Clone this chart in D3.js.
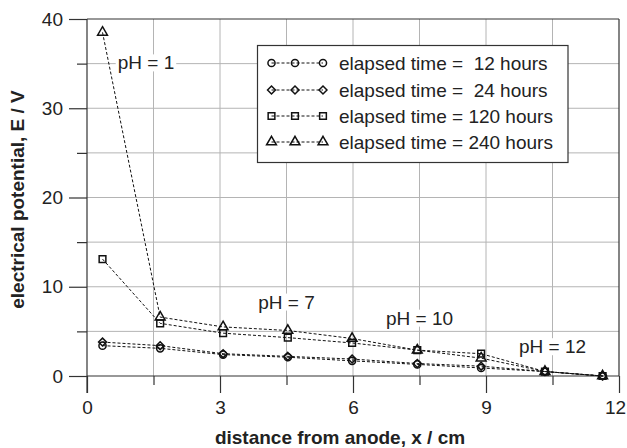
<!DOCTYPE html>
<html><head><meta charset="utf-8">
<script src="https://cdn.jsdelivr.net/npm/d3@7"></script>
<style>body{margin:0;background:#fff}svg{display:block}text{font-family:"Liberation Sans",Arial,sans-serif;fill:#222}</style>
</head><body>
<script>
const distances = [0.35, 1.65, 3.07, 4.53, 5.98, 7.45, 8.89, 10.33, 11.63];
const seriesNames = ["elapsed time =  12 hours","elapsed time =  24 hours","elapsed time = 120 hours","elapsed time = 240 hours"];
const hours12  = [3.4, 3.1, 2.4, 2.1, 1.7, 1.3, 0.9, 0.5, 0];
const hours24  = [3.8, 3.4, 2.5, 2.2, 1.9, 1.4, 1.1, 0.5, 0];
const hours120 = [13.1, 5.9, 4.8, 4.3, 3.7, 2.9, 2.5, 0.5, 0];
const hours240 = [38.5, 6.6, 5.5, 5.1, 4.2, 2.9, 2.0, 0.5, 0];
const xMajorTicks = [0, 3, 6, 9, 12];
const xMinorTicks = [1.5, 4.5, 7.5, 10.5];
const yMajorTicks = [0, 10, 20, 30, 40];
const yMinorTicks = [5, 15, 25, 35];
const phLabels = ["pH = 1", "pH = 7", "pH = 10", "pH = 12"];
const phX = [1.33, 4.5, 7.5, 10.5];
const phY = [35.1, 8.3, 6.5, 3.3];

const diamond = { draw(ctx, size) { const r = Math.sqrt(size) / 2 * 1.25; ctx.moveTo(0, -r); ctx.lineTo(r, 0); ctx.lineTo(0, r); ctx.lineTo(-r, 0); ctx.closePath(); } };
const symbols = [d3.symbolCircle, diamond, d3.symbolSquare, d3.symbolTriangle];
const symSizes = [40, 40, 45, 42];

const W = 627, H = 448;
const svg = d3.select("body").append("svg").attr("width", W).attr("height", H);
const x = d3.scaleLinear().domain([0, 12]).range([87, 619]);
const y = d3.scaleLinear().domain([0, 40]).range([376, 19]);

// gridlines
const grid = svg.append("g").attr("stroke", "#b4b4b4").attr("stroke-width", 1);
xMinorTicks.concat(xMajorTicks.slice(1, -1)).forEach(v => {
  grid.append("line").attr("x1", x(v)).attr("x2", x(v)).attr("y1", y(0)).attr("y2", y(40));
});
yMinorTicks.concat(yMajorTicks.slice(1, -1)).forEach(v => {
  grid.append("line").attr("x1", x(0)).attr("x2", x(12)).attr("y1", y(v)).attr("y2", y(v));
});

// frame
const frame = svg.append("g").attr("stroke", "#333").attr("stroke-width", 1.2).attr("fill", "none");
frame.append("line").attr("x1", x(0)).attr("x2", x(12)).attr("y1", y(40)).attr("y2", y(40));
frame.append("line").attr("x1", x(12)).attr("x2", x(12)).attr("y1", y(40)).attr("y2", y(0));

// axes
const yAxMaj = d3.axisLeft(y).tickValues(yMajorTicks).tickSize(18).tickPadding(6).tickFormat(d3.format("d"));
const yAxMin = d3.axisLeft(y).tickValues(yMinorTicks).tickSize(10).tickFormat("");
const xAxMaj = d3.axisBottom(x).tickValues(xMajorTicks).tickSize(17).tickPadding(8).tickFormat(d3.format("d"));
const xAxMin = d3.axisBottom(x).tickValues(xMinorTicks).tickSize(9).tickFormat("");
function styleAxis(g) {
  g.select(".domain").remove();
  g.selectAll("line").attr("stroke", "#333").attr("stroke-width", 1.2);
  g.selectAll("text").style("font-size", "19px").attr("fill", "#222");
}
svg.append("g").attr("transform", `translate(${x(0)},0)`).call(yAxMaj).call(styleAxis);
svg.append("g").attr("transform", `translate(${x(0)},0)`).call(yAxMin).call(styleAxis);
const xg = svg.append("g").attr("transform", `translate(0,${y(0)})`).call(xAxMaj).call(styleAxis);
xg.selectAll(".tick text").filter(d => d === 12).attr("dx", "-4");
svg.append("g").attr("transform", `translate(0,${y(0)})`).call(xAxMin).call(styleAxis);
svg.append("line").attr("x1", x(0)).attr("x2", x(0)).attr("y1", y(40)).attr("y2", y(0) + 17).attr("stroke", "#333").attr("stroke-width", 1.2);
svg.append("line").attr("x1", x(0)).attr("x2", x(12)).attr("y1", y(0)).attr("y2", y(0)).attr("stroke", "#333").attr("stroke-width", 1.2);

// axis titles
svg.append("text").attr("x", 340).attr("y", 444).attr("text-anchor", "middle")
  .style("font-size", "19px").style("font-weight", "bold").text("distance from anode, x / cm");
svg.append("text").attr("transform", `translate(24,${(y(0)+y(40))/2 + 2}) rotate(-90)`).attr("text-anchor", "middle")
  .style("font-size", "19px").style("font-weight", "bold").text("electrical potential, E / V");

// pH labels with white background
phLabels.forEach((t, i) => {
  const g = svg.append("g");
  const tx = g.append("text").attr("x", x(phX[i])).attr("y", y(phY[i])).attr("dy", "0.35em")
    .attr("text-anchor", "middle").style("font-size", "19px").text(t);
  const bb = tx.node().getBBox();
  g.insert("rect", "text").attr("x", bb.x - 2).attr("y", bb.y + 2).attr("width", bb.width + 4).attr("height", bb.height - 4).attr("fill", "#fff");
});

// series
const allSeries = [hours12, hours24, hours120, hours240];
const line = d3.line().x((d, i) => x(distances[i])).y(d => y(d));
allSeries.forEach((vals, s) => {
  svg.append("path").attr("d", line(vals)).attr("fill", "none").attr("stroke", "#111")
    .attr("stroke-width", 1).attr("stroke-dasharray", "3,2");
  const sym = d3.symbol().type(symbols[s]).size(symSizes[s]);
  svg.append("g").selectAll("path").data(vals).join("path")
    .attr("transform", (d, i) => `translate(${x(distances[i])},${y(d)})`)
    .attr("d", sym).attr("fill", "none").attr("stroke", "#111").attr("stroke-width", 1.5);
});

// legend
const lg = svg.append("g");
lg.append("rect").attr("x", 257.5).attr("y", 45.5).attr("width", 310.5).attr("height", 117)
  .attr("fill", "#fff").attr("stroke", "#333").attr("stroke-width", 1.2);
const rowY = [63, 90, 116, 142];
const mx = [271.5, 295, 323];
seriesNames.forEach((name, s) => {
  lg.append("line").attr("x1", mx[0]).attr("x2", mx[2]).attr("y1", rowY[s]).attr("y2", rowY[s])
    .attr("stroke", "#111").attr("stroke-width", 1).attr("stroke-dasharray", "3,2");
  const sym = d3.symbol().type(symbols[s]).size(symSizes[s]);
  mx.forEach(px => {
    lg.append("path").attr("transform", `translate(${px},${rowY[s]})`).attr("d", sym)
      .attr("fill", "none").attr("stroke", "#111").attr("stroke-width", 1.5);
  });
  lg.append("text").attr("x", 339).attr("y", rowY[s]).attr("dy", "0.35em")
    .style("font-size", "19px").style("white-space", "pre").text(name);
});
</script>
</body></html>
